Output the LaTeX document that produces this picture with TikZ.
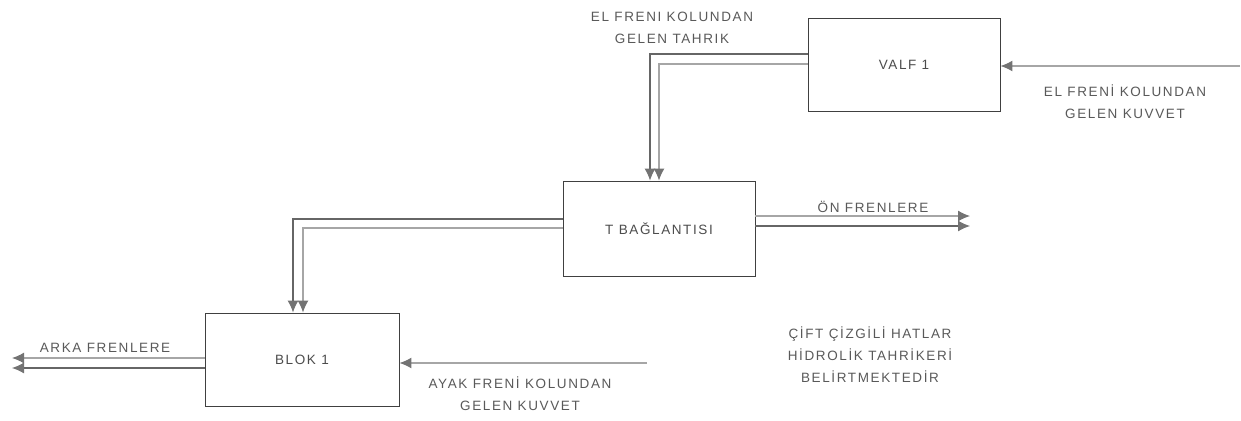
\documentclass[tikz,border=0pt]{standalone}
\usepackage{fontspec}
\newfontfamily\lblfont[LetterSpace=12]{Liberation Sans}
\usetikzlibrary{arrows.meta, calc}
\tikzset{
  blockbox/.style={
    draw=black!75,
    line width=0.9pt,
    fill=white,
    font={\lblfont\fontsize{13.5}{21}\selectfont},
    text=black!70,
    inner sep=0pt
  },
  dark line/.style={
    draw=black!60,
    line width=1.1pt
  },
  light line/.style={
    draw=black!35,
    line width=1.3pt
  },
  tip/.style={
    -{Latex[length=12pt, width=11pt, color=black!55, fill=black!55]},
    shorten >=0pt
  },
  note/.style={
    font={\lblfont\fontsize{13.5}{22}\selectfont},
    text=black!65,
    align=center,
    inner sep=0pt
  }
}

\begin{document}
\begin{tikzpicture}[x=1pt, y=-1pt, >=Latex]
    \useasboundingbox (0,0) rectangle (1241,420);

    % kutular
    \node[blockbox, minimum width=192pt, minimum height=93pt] (valf) at (904,64.5) {VALF 1};
    \node[blockbox, minimum width=192pt, minimum height=95pt] (tbag) at (659,228.5) {T BAĞLANTISI};
    \node[blockbox, minimum width=194pt, minimum height=93pt] (blok) at (302,359.5) {BLOK 1};

    % kirilma noktalari ve serbest uclar
    \coordinate (elkosedis) at (650,54);
    \coordinate (elkoseic) at (659,64);
    \coordinate (tkosedis) at (293,219);
    \coordinate (tkoseic) at (303,228);
    \coordinate (onfrenust) at (970,216);
    \coordinate (onfrenalt) at (970,226);
    \coordinate (arkafrenust) at (12,358);
    \coordinate (arkafrenalt) at (12,368);
    \coordinate (elkuvvet) at (1240,66);
    \coordinate (ayakkuvvet) at (647,363);

    % el freni -> T baglantisi (cift cizgi)
    \draw[dark line, tip] (valf.west |- elkosedis) -- (elkosedis) -- (elkosedis |- tbag.north);
    \draw[light line, tip] (valf.west |- elkoseic) -- (elkoseic) -- (elkoseic |- tbag.north);

    % T baglantisi -> blok 1 (cift cizgi)
    \draw[dark line, tip] (tbag.west |- tkosedis) -- (tkosedis) -- (tkosedis |- blok.north);
    \draw[light line, tip] (tbag.west |- tkoseic) -- (tkoseic) -- (tkoseic |- blok.north);

    % on frenlere
    \draw[light line, tip] (tbag.east |- onfrenust) -- (onfrenust);
    \draw[dark line, tip] (tbag.east |- onfrenalt) -- (onfrenalt);

    % arka frenlere
    \draw[light line, tip] (blok.west |- arkafrenust) -- (arkafrenust);
    \draw[dark line, tip] (blok.west |- arkafrenalt) -- (arkafrenalt);

    % kuvvet girisleri
    \draw[light line, tip] (elkuvvet) -- (elkuvvet -| valf.east);
    \draw[light line, tip] (ayakkuvvet) -- (ayakkuvvet -| blok.east);

    % yazilar
    \node[note] (eltahrik) at (672,28) {EL FRENI KOLUNDAN\\GELEN TAHRIK};
    \node[note] (elkuvvetyazi) at (1125,102) {EL FRENİ KOLUNDAN\\GELEN KUVVET};
    \node[note] (onfrenyazi) at (873,207) {ÖN FRENLERE};
    \node[note] (arkafrenyazi) at (105,348) {ARKA FRENLERE};
    \node[note] (ayakyazi) at (520,394) {AYAK FRENİ KOLUNDAN\\GELEN KUVVET};
    \node[note] (aciklama) at (870,355) {ÇİFT ÇİZGİLİ HATLAR\\HİDROLİK TAHRİKERİ\\BELİRTMEKTEDİR};

\end{tikzpicture}
\end{document}
